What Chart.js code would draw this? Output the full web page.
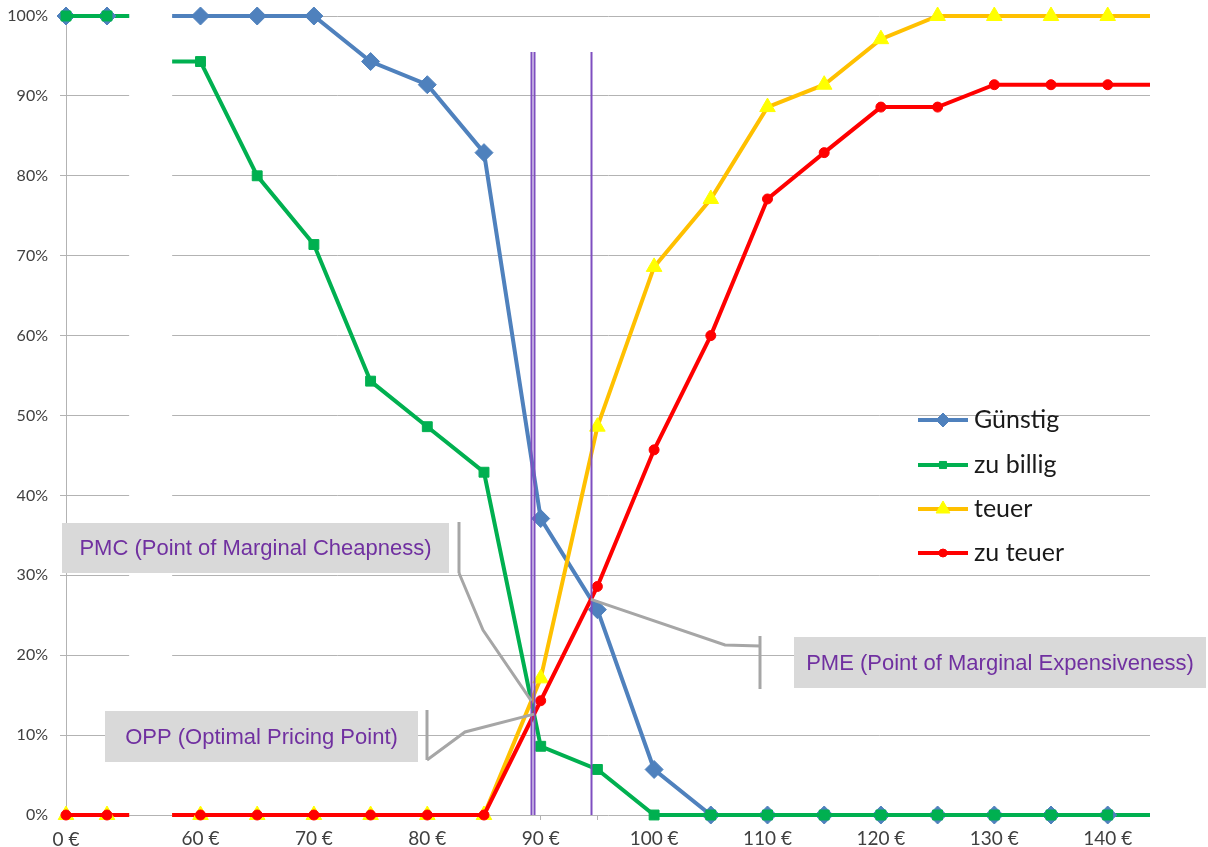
<!DOCTYPE html>
<html>
<head>
<meta charset="utf-8">
<script src="https://cdn.jsdelivr.net/npm/chart.js@4"></script>
<style>
  body { margin: 0; background: #fff; }
  canvas { display: block; }
</style>
</head>
<body>
<canvas id="psmChart" width="1208" height="847"></canvas>
<script>
// Preise (linker Abschnitt vor dem Achsenbruch, dann Hauptbereich)
var pricesLeft = [0, 5];
var pricesMain = [60, 65, 70, 75, 80, 85, 90, 95, 100, 105, 110, 115, 120, 125, 130, 135, 140];
var tickPrices = [60, 70, 80, 90, 100, 110, 120, 130, 140];
var yTicks = [0, 10, 20, 30, 40, 50, 60, 70, 80, 90, 100];

// Anteil der Befragten in %
var guenstigLeft = [100, 100];
var guenstig = [100, 100, 100, 94.3, 91.4, 82.9, 37.1, 25.7, 5.7, 0, 0, 0, 0, 0, 0, 0, 0];
var zuBilligLeft = [100, 100];
var zuBillig = [94.3, 80, 71.4, 54.3, 48.6, 42.9, 8.6, 5.7, 0, 0, 0, 0, 0, 0, 0, 0, 0];
var teuerLeft = [0, 0];
var teuer = [0, 0, 0, 0, 0, 0, 17.1, 48.6, 68.6, 77.1, 88.6, 91.4, 97.1, 100, 100, 100, 100];
var zuTeuerLeft = [0, 0];
var zuTeuer = [0, 0, 0, 0, 0, 0, 14.3, 28.6, 45.7, 60, 77.1, 82.9, 88.6, 88.6, 91.4, 91.4, 91.4];

var series = [
    { label: 'Günstig', left: guenstigLeft, main: guenstig, line: '#4F81BD', fill: '#4F81BD', style: 'rectRot', r: 9, order: 4 },
    { label: 'zu billig', left: zuBilligLeft, main: zuBillig, line: '#00B050', fill: '#00B050', style: 'rect', r: 7, order: 3 },
    { label: 'teuer', left: teuerLeft, main: teuer, line: '#FFC000', fill: '#FFFF00', style: 'triangle', r: 9, order: 2 },
    { label: 'zu teuer', left: zuTeuerLeft, main: zuTeuer, line: '#FF0000', fill: '#FF0000', style: 'circle', r: 5, order: 1 }
];

var GRID = '#B3B3B3';
var PURPLE = '#7030A0';

function pts(xs, ys) {
    return xs.map(function (x, i) { return { x: x, y: ys[i] }; });
}

// Schnittpunkt zweier Kurven auf dem Hauptbereich
function crossing(a, b) {
    for (var i = 0; i < pricesMain.length - 1; i++) {
        var d0 = a[i] - b[i], d1 = a[i + 1] - b[i + 1];
        if (d0 === 0 && d1 === 0) continue;
        if ((d0 > 0 && d1 <= 0) || (d0 < 0 && d1 >= 0)) {
            var t = d0 / (d0 - d1);
            return {
                x: pricesMain[i] + t * (pricesMain[i + 1] - pricesMain[i]),
                y: a[i] + t * (a[i + 1] - a[i])
            };
        }
    }
    return null;
}

var pmc = crossing(zuBillig, teuer);
var opp = crossing(zuBillig, zuTeuer);
var pme = crossing(guenstig, zuTeuer);

var datasets = [];
series.forEach(function (s) {
    var common = {
        label: s.label,
        borderColor: s.line,
        backgroundColor: s.fill,
        borderWidth: 4,
        pointStyle: s.style,
        pointRadius: s.r,
        pointBorderColor: s.fill,
        pointBackgroundColor: s.fill,
        pointBorderWidth: 1,
        order: s.order,
        clip: false,
        tension: 0
    };
    datasets.push(Object.assign({}, common, { data: pts(pricesMain, s.main), xAxisID: 'x' }));
    datasets.push(Object.assign({}, common, { data: pts(pricesLeft, s.left), xAxisID: 'xl' }));
});

// Achsenbruch, Linienenden, Kennzeichnungen und Legende
var overlay = {
    id: 'overlay',
    beforeDatasetsDraw: function (chart) {
        var ctx = chart.ctx, a = chart.chartArea;
        var gapL = chart.scales.xl.getPixelForValue(7.7);
        var gapR = chart.scales.x.getPixelForValue(57.5);
        ctx.save();
        ctx.fillStyle = '#fff';
        ctx.fillRect(gapL, a.top - 2, gapR - gapL, a.bottom - a.top + 1);
        ctx.restore();

        // horizontale Fortsetzung der Linien bis zum Rand der Abschnitte
        ctx.save();
        ctx.lineWidth = 4;
        var ys = chart.scales.y;
        series.forEach(function (s) {
            ctx.strokeStyle = s.line;
            ctx.beginPath();
            var yl = ys.getPixelForValue(s.left[s.left.length - 1]);
            ctx.moveTo(chart.scales.xl.getPixelForValue(pricesLeft[pricesLeft.length - 1]), yl);
            ctx.lineTo(gapL, yl);
            var y0 = ys.getPixelForValue(s.main[0]);
            ctx.moveTo(gapR, y0);
            ctx.lineTo(chart.scales.x.getPixelForValue(pricesMain[0]), y0);
            var y1 = ys.getPixelForValue(s.main[s.main.length - 1]);
            ctx.moveTo(chart.scales.x.getPixelForValue(pricesMain[pricesMain.length - 1]), y1);
            ctx.lineTo(a.right, y1);
            ctx.stroke();
        });
        ctx.restore();
    },
    afterDatasetsDraw: function (chart) {
        var ctx = chart.ctx, a = chart.chartArea;
        var xs = chart.scales.x, ys = chart.scales.y;

        // senkrechte Linien durch die Schnittpunkte
        ctx.save();
        ctx.strokeStyle = '#7F4FC0';
        ctx.lineWidth = 2;
        [pmc, opp, pme].forEach(function (p) {
            var px = Math.round(xs.getPixelForValue(p.x)) + 0.5;
            ctx.beginPath();
            ctx.moveTo(px, ys.getPixelForValue(95.5));
            ctx.lineTo(px, a.bottom);
            ctx.stroke();
        });
        ctx.restore();

        // Beschriftungskästen mit Verbindungslinien
        var notes = [
            { text: 'PMC (Point of Marginal Cheapness)', box: [62, 523, 387, 50], bx: 459, by: [522, 573],
              path: [[459, 573], [483, 630]], pt: pmc },
            { text: 'OPP (Optimal Pricing Point)', box: [105, 711, 313, 51], bx: 427, by: [710, 760],
              path: [[427, 760], [465, 732]], pt: opp },
            { text: 'PME (Point of Marginal Expensiveness)', box: [794, 637, 412, 51], bx: 760, by: [636, 689],
              path: [[760, 646], [725, 645]], pt: pme }
        ];
        ctx.save();
        notes.forEach(function (n) {
            ctx.fillStyle = '#D9D9D9';
            ctx.fillRect(n.box[0], n.box[1], n.box[2], n.box[3]);
            ctx.fillStyle = PURPLE;
            ctx.font = '22px "Liberation Sans", Arial, sans-serif';
            ctx.textAlign = 'center';
            ctx.textBaseline = 'middle';
            ctx.fillText(n.text, n.box[0] + n.box[2] / 2, n.box[1] + n.box[3] / 2 + 1);

            ctx.strokeStyle = '#A6A6A6';
            ctx.lineWidth = 3;
            ctx.beginPath();
            ctx.moveTo(n.bx, n.by[0]);
            ctx.lineTo(n.bx, n.by[1]);
            ctx.stroke();
            ctx.beginPath();
            ctx.moveTo(n.path[0][0], n.path[0][1]);
            for (var i = 1; i < n.path.length; i++) ctx.lineTo(n.path[i][0], n.path[i][1]);
            ctx.lineTo(xs.getPixelForValue(n.pt.x), ys.getPixelForValue(n.pt.y));
            ctx.stroke();
        });
        ctx.restore();

        // Beschriftung des linken Abschnitts
        ctx.save();
        ctx.fillStyle = '#404040';
        ctx.font = '19px Lato';
        ctx.textAlign = 'center';
        ctx.textBaseline = 'middle';
        ctx.fillText(pricesLeft[0] + ' €', chart.scales.xl.getPixelForValue(pricesLeft[0]), a.bottom + 25);
        ctx.restore();

        // Legende
        ctx.save();
        var rowY = [420, 465, 509, 553];
        series.forEach(function (s, i) {
            var y = rowY[i];
            ctx.strokeStyle = s.line;
            ctx.lineWidth = 4;
            ctx.beginPath();
            ctx.moveTo(918, y);
            ctx.lineTo(968, y);
            ctx.stroke();
            var r = s.style === 'rectRot' ? 7 : (s.style === 'rect' ? 5 : (s.style === 'triangle' ? 8 : 4));
            ctx.fillStyle = s.fill;
            ctx.strokeStyle = s.fill;
            ctx.lineWidth = 1;
            Chart.helpers.drawPoint(ctx, { pointStyle: s.style, radius: r, borderWidth: 1 }, 943, y);
            ctx.fillStyle = '#1a1a1a';
            ctx.font = '25px Lato';
            ctx.textAlign = 'left';
            ctx.textBaseline = 'middle';
            ctx.fillText(s.label, 974, y);
        });
        ctx.restore();
    }
};

var ctx = document.getElementById('psmChart').getContext('2d');
var chart = new Chart(ctx, {
    type: 'line',
    data: { datasets: datasets },
    options: {
        responsive: false,
        animation: false,
        layout: { padding: { top: 16, right: 58, bottom: 0, left: 0 } },
        plugins: {
            legend: { display: false },
            tooltip: { enabled: false }
        },
        scales: {
            x: {
                type: 'linear',
                min: 48.14,
                max: 143.73,
                afterBuildTicks: function (scale) {
                    scale.ticks = pricesMain.map(function (v) { return { value: v }; });
                },
                afterFit: function (scale) { scale.height = 32; },
                grid: { drawOnChartArea: false, drawTicks: true, tickLength: 5, color: GRID },
                border: { display: false },
                ticks: {
                    autoSkip: false,
                    maxRotation: 0,
                    padding: 7,
                    color: '#404040',
                    font: { family: 'Lato', size: 19 },
                    callback: function (v) { return tickPrices.indexOf(v) >= 0 ? v + ' €' : ''; }
                }
            },
            xl: {
                type: 'linear',
                display: false,
                min: 0,
                max: 132.2
            },
            y: {
                min: 0,
                max: 100,
                afterBuildTicks: function (scale) {
                    scale.ticks = yTicks.map(function (v) { return { value: v }; });
                },
                afterFit: function (scale) {
                    scale.width = 66;
                    scale.paddingTop = 0;
                    scale.paddingBottom = 0;
                },
                grid: { color: GRID, lineWidth: 1, tickLength: 6 },
                border: { display: true, color: GRID, width: 1 },
                ticks: {
                    padding: 12,
                    color: '#404040',
                    font: { family: 'Lato', size: 16 },
                    callback: function (v) { return v + '%'; }
                }
            }
        }
    },
    plugins: [overlay]
});
</script>
</body>
</html>
